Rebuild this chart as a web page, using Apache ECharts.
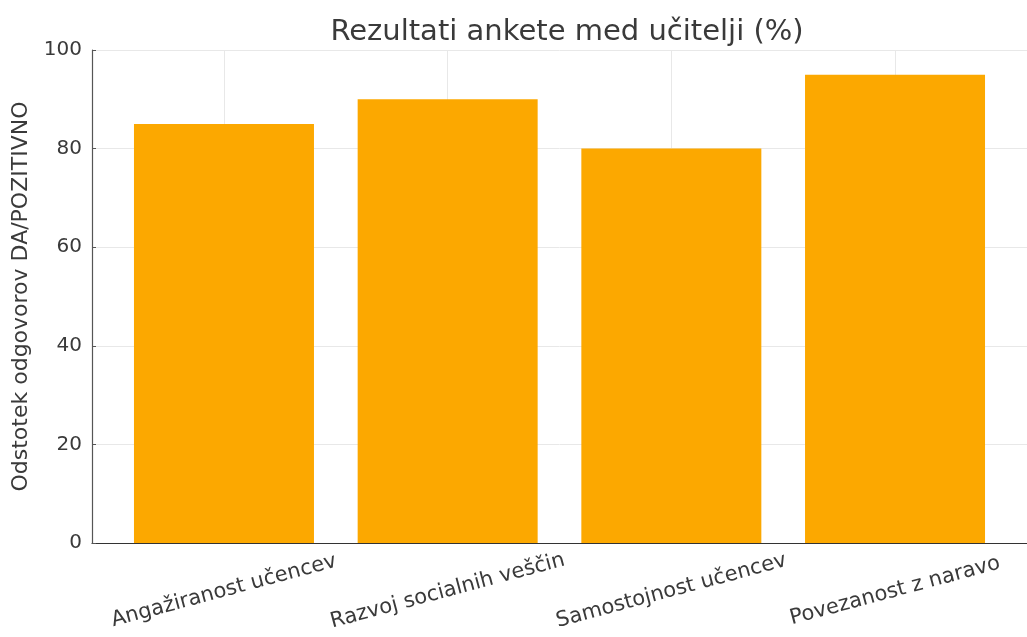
<!DOCTYPE html>
<html>
<head>
<meta charset="utf-8">
<script src="https://cdn.jsdelivr.net/npm/echarts@6/dist/echarts.min.js"></script>
<style>
  html, body { margin: 0; padding: 0; background: #fff; }
  #chart { width: 1027px; height: 637px; }
</style>
</head>
<body>
<div id="chart"></div>
<script>
  // survey data
  var categories = ['Angažiranost učencev', 'Razvoj socialnih veščin', 'Samostojnost učencev', 'Povezanost z naravo'];
  var percentValues = [85, 90, 80, 95];
  var yTicks = [0, 20, 40, 60, 80, 100];

  var fontFamily = '"DejaVu Sans", sans-serif';
  var positions = categories.map(function (c, i) { return i; });

  var chart = echarts.init(document.getElementById('chart'));

  chart.setOption({
    animation: false,
    title: {
      text: 'Rezultati ankete med učitelji (%)',
      left: 562,
      top: 13,
      textAlign: 'center',
      textStyle: { fontFamily: fontFamily, fontSize: 29, fontWeight: 'normal', color: '#3a3a3a' }
    },
    grid: { left: 92, right: -4, top: 50, bottom: 94, containLabel: false },
    xAxis: {
      type: 'value',
      min: -0.59,
      max: 3.59,
      axisLine: { show: true, onZero: false, lineStyle: { color: '#333', width: 1.2 } },
      axisTick: { show: true, inside: true, customValues: positions, length: 4, lineStyle: { color: '#555' } },
      splitLine: { show: true, lineStyle: { color: '#e8e8e8', width: 1 } },
      axisLabel: {
        customValues: positions,
        rotate: 15,
        align: 'center',
        verticalAlign: 'middle',
        margin: 48,
        fontFamily: fontFamily,
        fontSize: 21,
        color: '#3a3a3a',
        formatter: function (v) { return categories[Math.round(v)]; }
      }
    },
    yAxis: {
      type: 'value',
      min: yTicks[0],
      max: yTicks[yTicks.length - 1],
      interval: 20,
      name: 'Odstotek odgovorov DA/POZITIVNO',
      nameLocation: 'middle',
      nameGap: 60,
      nameTextStyle: { fontFamily: fontFamily, fontSize: 22, color: '#3a3a3a' },
      axisLine: { show: true, onZero: false, lineStyle: { color: '#555', width: 1.2 } },
      axisTick: { show: true, inside: true, length: 4, lineStyle: { color: '#555' } },
      splitLine: { show: true, lineStyle: { color: '#e8e8e8', width: 1 } },
      axisLabel: { fontFamily: fontFamily, fontSize: 20, color: '#3a3a3a', margin: 10 }
    },
    series: [{
      type: 'bar',
      data: percentValues.map(function (v, i) { return [positions[i], v]; }),
      barWidth: 180,
      itemStyle: { color: '#FCA800' }
    }]
  });
</script>
</body>
</html>
